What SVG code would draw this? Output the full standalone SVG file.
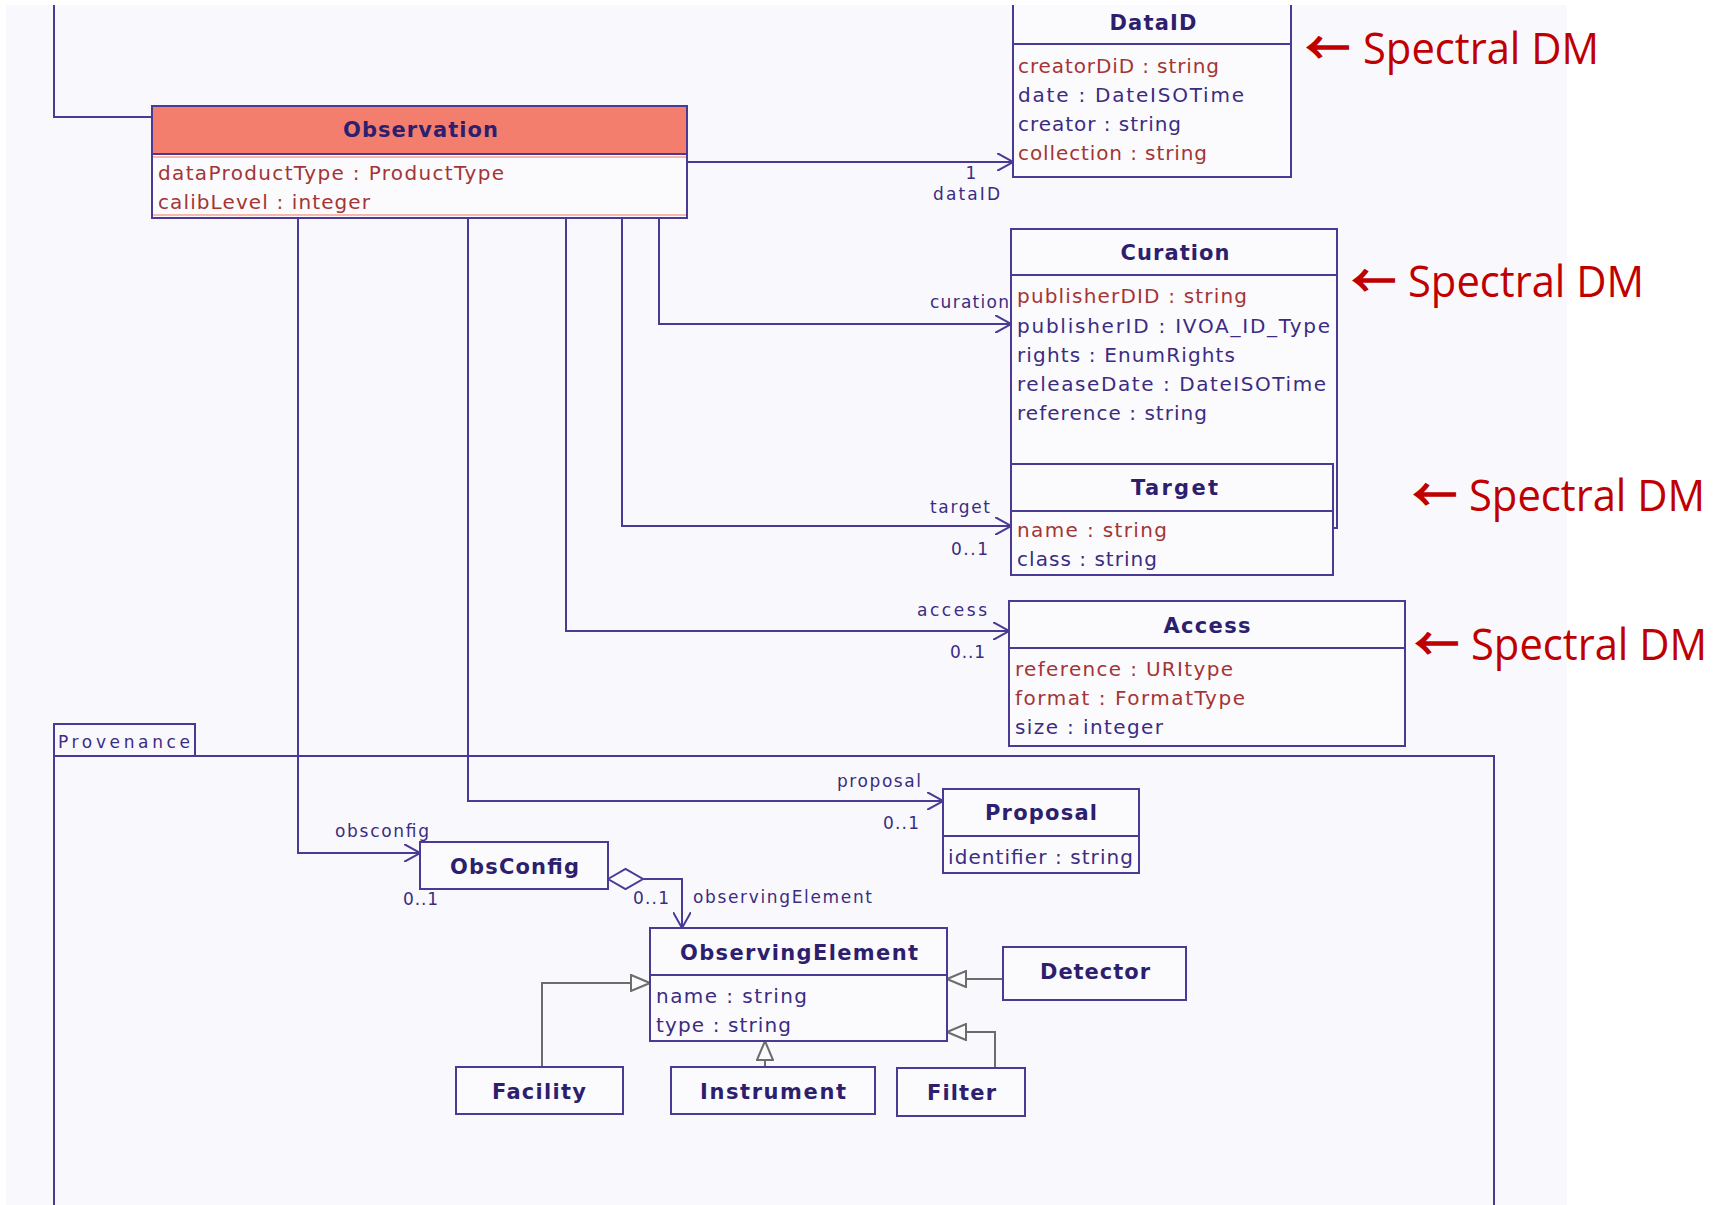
<svg xmlns="http://www.w3.org/2000/svg" width="1724" height="1205" viewBox="0 0 1724 1205">
<style>
.box{fill:#fbfbfe;stroke:#4b3a95;stroke-width:2}
.sep{stroke:#4b3a95;stroke-width:2}
.ttl{font-family:"DejaVu Sans",sans-serif;font-weight:bold;font-size:21px;fill:#2d1f6e;text-anchor:middle;dominant-baseline:central}
.at{font-family:"DejaVu Sans",sans-serif;font-size:20px;dominant-baseline:central}
.red{fill:#a53434}
.pur{fill:#3b2c82}
.lbl{font-family:"DejaVu Sans",sans-serif;font-size:17px;fill:#3b2c82;dominant-baseline:central}
.conn{fill:none;stroke:#4b3a95;stroke-width:2}
.gen{fill:none;stroke:#6c6c6c;stroke-width:2}
.sdm{font-family:"Open Sans","Noto Sans",sans-serif;font-size:44px;fill:#c00000}
.sarr{font-family:"Noto Sans CJK SC","DejaVu Sans",sans-serif;font-size:44px;stroke:#c00000;stroke-width:1.6}
</style>
<defs>
<marker id="open" viewBox="0 0 16 18" refX="16" refY="9" markerWidth="16" markerHeight="18" markerUnits="userSpaceOnUse" orient="auto">
<path d="M0,0 L16,9 L0,18" fill="none" stroke="#4b3a95" stroke-width="2"/>
</marker>
<marker id="tri" viewBox="0 0 21 18" refX="20" refY="9" markerWidth="21" markerHeight="18" markerUnits="userSpaceOnUse" orient="auto">
<path d="M1,1 L20,9 L1,17 Z" fill="#fbfbfe" stroke="#6c6c6c" stroke-width="2"/>
</marker>
</defs>
<rect x="0" y="0" width="1724" height="1205" fill="#ffffff"/>
<rect x="6" y="5" width="1561" height="1200" fill="#f9f9fd"/>

<g id="provenance">
<rect x="54" y="724" width="141" height="32" fill="none" stroke="#4b3a95" stroke-width="2"/>
<path d="M54,1210 V756 H1494 V1210" fill="none" stroke="#4b3a95" stroke-width="2"/>
<text class="lbl" x="58" y="742" font-size="21" textLength="132">Provenance</text>
</g>

<g id="connectors">
<path class="conn" d="M54,5 V117 H152"/>
<path class="conn" d="M687,162 H1013" marker-end="url(#open)"/>
<path class="conn" d="M659,218 V324 H1011" marker-end="url(#open)"/>
<path class="conn" d="M622,218 V526 H1011" marker-end="url(#open)"/>
<path class="conn" d="M566,218 V631 H1009" marker-end="url(#open)"/>
<path class="conn" d="M468,218 V801 H943" marker-end="url(#open)"/>
<path class="conn" d="M298,218 V853 H420" marker-end="url(#open)"/>
<polygon points="608,879 625.5,869 643,879 625.5,889" fill="#fbfbfe" stroke="#4b3a95" stroke-width="2"/>
<path class="conn" d="M643,879 H682 V928" marker-end="url(#open)"/>
<path class="gen" d="M542,1067 V983 H650" marker-end="url(#tri)"/>
<path class="gen" d="M765,1067 V1041" marker-end="url(#tri)"/>
<path class="gen" d="M1003,979 H947" marker-end="url(#tri)"/>
<path class="gen" d="M995,1068 V1032 H947" marker-end="url(#tri)"/>
<text class="lbl" x="971" y="173" text-anchor="middle">1</text>
<text class="lbl" x="933" y="194" textLength="67">dataID</text>
<text class="lbl" x="930" y="302" textLength="79">curation</text>
<text class="lbl" x="930" y="507" textLength="60">target</text>
<text class="lbl" x="951" y="549" textLength="37">0..1</text>
<text class="lbl" x="917" y="610" textLength="70">access</text>
<text class="lbl" x="950" y="652" textLength="35">0..1</text>
<text class="lbl" x="837" y="781" textLength="84">proposal</text>
<text class="lbl" x="883" y="823" textLength="36">0..1</text>
<text class="lbl" x="335" y="831" textLength="94">obsconfig</text>
<text class="lbl" x="403" y="899" textLength="35">0..1</text>
<text class="lbl" x="633" y="898" textLength="36">0..1</text>
<text class="lbl" x="693" y="897" textLength="179">observingElement</text>
</g>

<g id="observation">
<rect x="152" y="106" width="535" height="112" fill="#fbfbfe" stroke="#4b3a95" stroke-width="2"/>
<rect x="153" y="107" width="533" height="47" fill="#f47e6e"/>
<line class="sep" x1="152" y1="154" x2="687" y2="154"/>
<line x1="153" y1="157" x2="686" y2="157" stroke="#f6a090" stroke-width="1.5"/>
<line x1="153" y1="215" x2="686" y2="215" stroke="#f6a090" stroke-width="1.5"/>
<text class="ttl" x="420.5" y="130" textLength="155">Observation</text>
<text class="at red" x="158" y="173" textLength="346">dataProductType : ProductType</text>
<text class="at red" x="158" y="202" textLength="212">calibLevel : integer</text>
</g>

<g id="dataid">
<path d="M1013,5 V177 H1291 V5" fill="#fbfbfe" stroke="#4b3a95" stroke-width="2"/>
<line class="sep" x1="1013" y1="44" x2="1291" y2="44"/>
<text class="ttl" x="1153" y="23" textLength="87">DataID</text>
<text class="at red" x="1018" y="66" textLength="201">creatorDiD : string</text>
<text class="at pur" x="1018" y="95" textLength="226">date : DateISOTime</text>
<text class="at pur" x="1018" y="124" textLength="163">creator : string</text>
<text class="at red" x="1018" y="153" textLength="189">collection : string</text>
</g>

<g id="curation">
<rect class="box" x="1011" y="229" width="326" height="299"/>
<line class="sep" x1="1011" y1="275" x2="1337" y2="275"/>
<text class="ttl" x="1175" y="253" textLength="109">Curation</text>
<text class="at red" x="1017" y="296" textLength="230">publisherDID : string</text>
<text class="at pur" x="1017" y="326" textLength="313">publisherID : IVOA_ID_Type</text>
<text class="at pur" x="1017" y="355" textLength="218">rights : EnumRights</text>
<text class="at pur" x="1017" y="384" textLength="309">releaseDate : DateISOTime</text>
<text class="at pur" x="1017" y="413" textLength="190">reference : string</text>
</g>

<g id="target">
<rect class="box" x="1011" y="464" width="322" height="111"/>
<line class="sep" x1="1011" y1="511" x2="1333" y2="511"/>
<text class="ttl" x="1174.5" y="488" textLength="87">Target</text>
<text class="at red" x="1017" y="530" textLength="150">name : string</text>
<text class="at pur" x="1017" y="559" textLength="140">class : string</text>
</g>

<g id="access">
<rect class="box" x="1009" y="601" width="396" height="145"/>
<line class="sep" x1="1009" y1="648" x2="1405" y2="648"/>
<text class="ttl" x="1207" y="626" textLength="87">Access</text>
<text class="at red" x="1015" y="669" textLength="218">reference : URItype</text>
<text class="at red" x="1015" y="698" textLength="230">format : FormatType</text>
<text class="at pur" x="1015" y="727" textLength="148">size : integer</text>
</g>

<g id="proposal">
<rect class="box" x="943" y="789" width="196" height="84"/>
<line class="sep" x1="943" y1="836" x2="1139" y2="836"/>
<text class="ttl" x="1041" y="813" textLength="112">Proposal</text>
<text class="at pur" x="948" y="857" textLength="185">identifier : string</text>
</g>

<g id="obsconfig">
<rect class="box" x="420" y="842" width="188" height="47"/>
<text class="ttl" x="514.5" y="867" textLength="129">ObsConfig</text>
</g>

<g id="observingelement">
<rect class="box" x="650" y="928" width="297" height="113"/>
<line class="sep" x1="650" y1="975" x2="947" y2="975"/>
<text class="ttl" x="799" y="953" textLength="238">ObservingElement</text>
<text class="at pur" x="656" y="996" textLength="151">name : string</text>
<text class="at pur" x="656" y="1025" textLength="135">type : string</text>
</g>

<g id="detector">
<rect class="box" x="1003" y="947" width="183" height="53"/>
<text class="ttl" x="1095" y="972" textLength="110">Detector</text>
</g>

<g id="facility">
<rect class="box" x="456" y="1067" width="167" height="47"/>
<text class="ttl" x="539" y="1092" textLength="94">Facility</text>
</g>

<g id="instrument">
<rect class="box" x="671" y="1067" width="204" height="47"/>
<text class="ttl" x="773" y="1092" textLength="146">Instrument</text>
</g>

<g id="filter">
<rect class="box" x="897" y="1068" width="128" height="48"/>
<text class="ttl" x="961.5" y="1093" textLength="69">Filter</text>
</g>

<g id="annotations">
<text class="sdm" y="64"><tspan class="sarr" x="1306">←</tspan><tspan x="1363" textLength="236" lengthAdjust="spacingAndGlyphs">Spectral DM</tspan></text>
<text class="sdm" y="297"><tspan class="sarr" x="1352">←</tspan><tspan x="1408" textLength="236" lengthAdjust="spacingAndGlyphs">Spectral DM</tspan></text>
<text class="sdm" y="511"><tspan class="sarr" x="1413">←</tspan><tspan x="1469" textLength="236" lengthAdjust="spacingAndGlyphs">Spectral DM</tspan></text>
<text class="sdm" y="660"><tspan class="sarr" x="1415">←</tspan><tspan x="1471" textLength="236" lengthAdjust="spacingAndGlyphs">Spectral DM</tspan></text>
</g>
</svg>
